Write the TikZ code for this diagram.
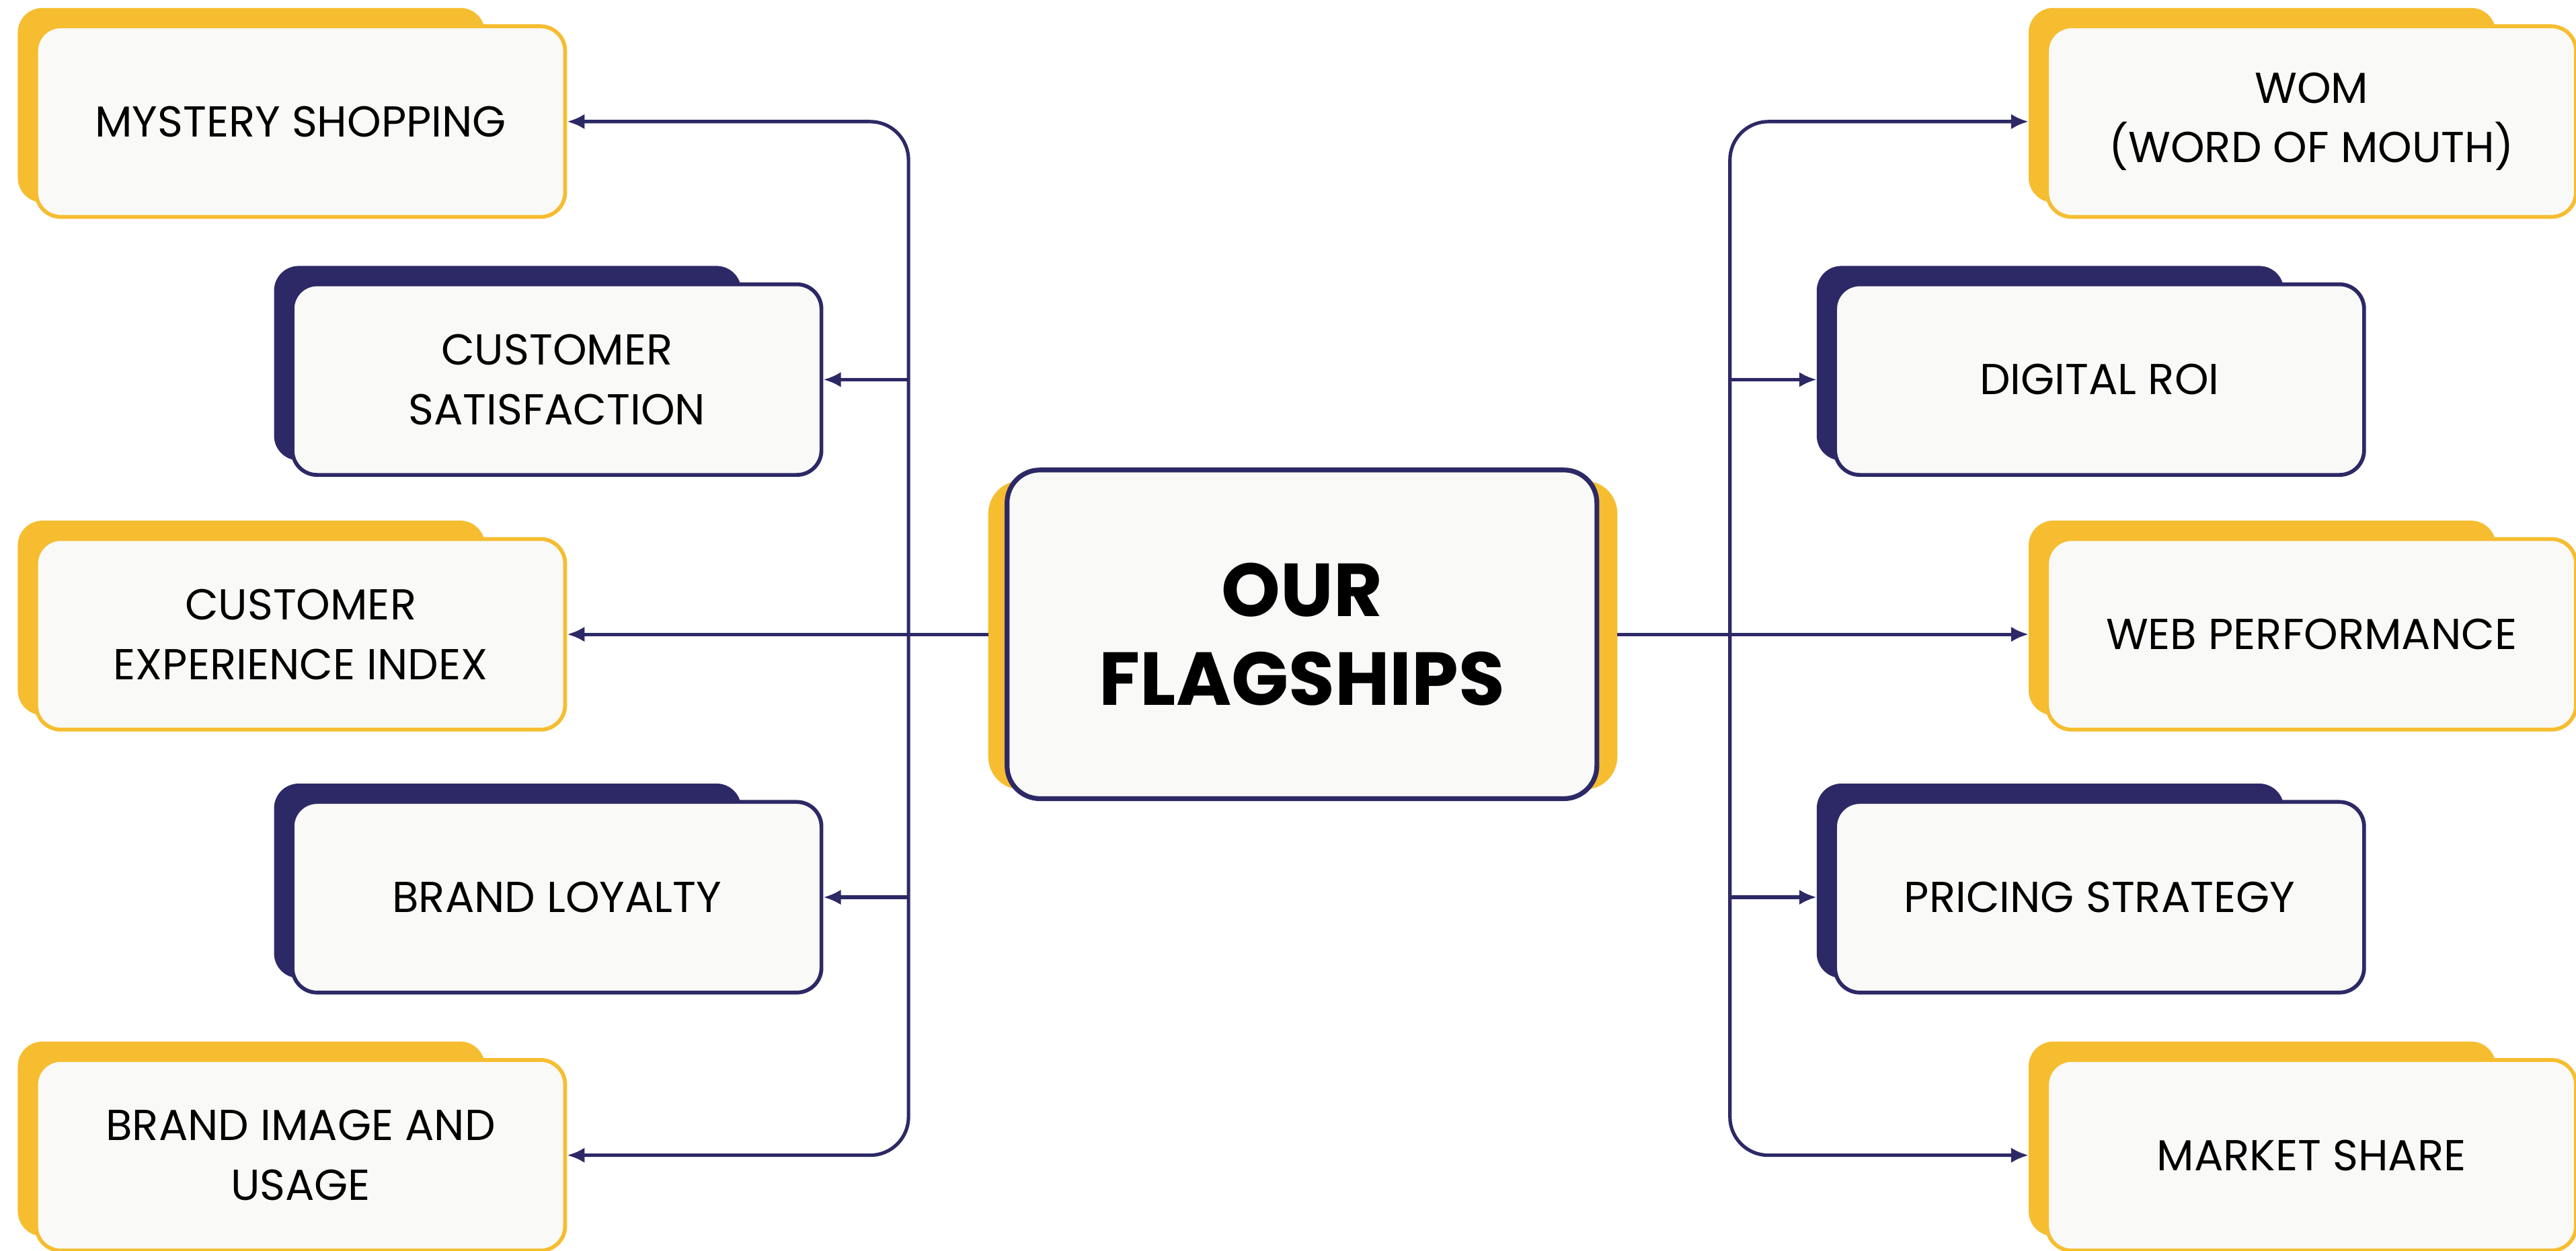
\documentclass[tikz,border=0pt]{standalone}
\usepackage{fontspec}
\setmainfont{Poppins}
\usetikzlibrary{positioning,arrows.meta,calc,backgrounds}
\definecolor{navy}{HTML}{2D2966}
\definecolor{gold}{HTML}{F6BD30}
\definecolor{paper}{HTML}{F9F9F7}

\begin{document}
\begin{tikzpicture}[
    x=0.3mm, y=-0.3mm,
    box/.style={draw, line width=2pt, rounded corners=4.5mm, fill=paper, minimum width=96.6mm, minimum height=34.8mm, align=center, inner sep=0pt, font=\fontsize{22.5}{31}\selectfont},
    ybox/.style={box, draw=gold},
    nbox/.style={box, draw=navy},
    hub/.style={box, draw=navy, line width=2.5pt, rounded corners=6mm, minimum width=107.7mm, minimum height=60mm, font=\fontsize{39}{46}\selectfont\bfseries},
    arr/.style={-{Latex[length=3.2mm, width=2.8mm]}, line width=1.8pt, navy},
    trunk/.style={arr, rounded corners=7mm}
  ]
  \useasboundingbox (0,0) rectangle (1568,761);

  % hub
  \node[hub] (flag) at (792.5,386) {OUR\\FLAGSHIPS};

  % left column
  \node[ybox] (ms) at (183,74) {MYSTERY SHOPPING};
  \node[nbox] (cs) at (339,231) {CUSTOMER\\SATISFACTION};
  \node[ybox] (cei) at (183,386) {CUSTOMER\\EXPERIENCE INDEX};
  \node[nbox] (bl) at (339,546) {BRAND LOYALTY};
  \node[ybox] (biu) at (183,703) {BRAND IMAGE AND\\USAGE};

  % right column
  \node[ybox] (wom) at (1407,74) {WOM\\(WORD OF MOUTH)};
  \node[nbox] (roi) at (1278,231) {DIGITAL ROI};
  \node[ybox] (web) at (1407,386) {WEB PERFORMANCE};
  \node[nbox] (price) at (1278,546) {PRICING STRATEGY};
  \node[ybox] (share) at (1407,703) {MARKET SHARE};

  % back plates
  \begin{pgfonlayer}{background}
    \fill[white] (0,0) rectangle (1568,761);
    \foreach \n/\c in {ms/gold, cs/navy, cei/gold, bl/navy, biu/gold, wom/gold, roi/navy, web/gold, price/navy, share/gold}
      \fill[\c, rounded corners=4.5mm] ($(\n.north west)+(-10,-10)$) rectangle ($(\n.south east)+(-50,-10)$);
    \fill[gold, rounded corners=6mm] ($(flag.north west)+(-10,8)$) rectangle ($(flag.south east)+(11,-7)$);
  \end{pgfonlayer}

  % connectors
  \coordinate (jl) at (553,386);
  \coordinate (jr) at (1053,386);

  \draw[trunk] (jl) |- (ms.east);
  \draw[trunk] (jl) |- (biu.east);
  \draw[arr] (jl |- cs.east) -- (cs.east);
  \draw[arr] (jl |- bl.east) -- (bl.east);
  \draw[arr, shorten <=3mm] (flag.west) -- (cei.east);

  \draw[trunk, shorten >=3mm] (jr) |- (wom.west);
  \draw[trunk, shorten >=3mm] (jr) |- (share.west);
  \draw[arr, shorten >=3mm] (jr |- roi.west) -- (roi.west);
  \draw[arr, shorten >=3mm] (jr |- price.west) -- (price.west);
  \draw[arr, shorten <=3.3mm, shorten >=3mm] (flag.east) -- (web.west);
\end{tikzpicture}
\end{document}
